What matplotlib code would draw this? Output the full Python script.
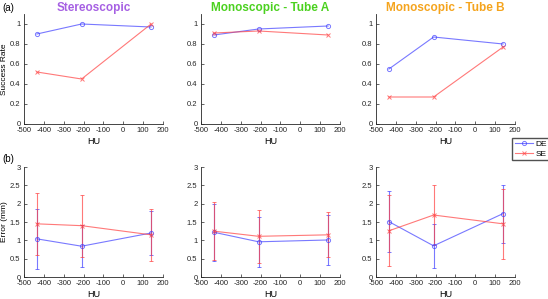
import matplotlib
matplotlib.use("Agg")
import matplotlib.pyplot as plt

plt.rcParams['font.family'] = ['Liberation Sans', 'DejaVu Sans']
plt.rcParams['axes.unicode_minus'] = False

hu = [-435, -210, 140]

titles = ["Stereoscopic", "Monoscopic - Tube A", "Monoscopic - Tube B"]
title_colors = ["#a660e3", "#4bd11f", "#f5a41d"]

# success rate (top row)
sr_de = [[0.90, 1.00, 0.97], [0.89, 0.95, 0.98], [0.55, 0.87, 0.80]]
sr_se = [[0.52, 0.45, 1.00], [0.91, 0.93, 0.89], [0.27, 0.27, 0.77]]

# error in mm (bottom row), mean and +/- error bar
err_de = [[1.04, 0.84, 1.20], [1.22, 0.96, 1.01], [1.51, 0.85, 1.73]]
err_de_bar = [[0.82, 0.57, 0.61], [0.77, 0.69, 0.68], [0.84, 0.60, 0.79]]
err_se = [[1.45, 1.40, 1.15], [1.25, 1.11, 1.15], [1.26, 1.69, 1.45]]
err_se_bar = [[0.84, 0.85, 0.71], [0.79, 0.72, 0.61], [0.97, 0.81, 0.95]]

blue = (0.25, 0.25, 1.0, 0.7)
red = (1.0, 0.25, 0.25, 0.7)

fig = plt.figure(figsize=(5.48, 2.99), dpi=100)
lefts = [24 / 548, 201 / 548, 376 / 548]
w = 139 / 548
h = 110 / 299


def style(ax):
    ax.spines['top'].set_visible(False)
    ax.spines['right'].set_visible(False)
    for s in ['left', 'bottom']:
        ax.spines[s].set_linewidth(0.6)
        ax.spines[s].set_color('#262626')
    ax.tick_params(direction='in', length=2, width=0.5, labelsize=5.5,
                   colors='#262626')
    ax.tick_params(axis='x', pad=2.5)
    ax.tick_params(axis='y', pad=2.5)
    ax.set_xlim(-500, 200)
    ax.set_xticks(range(-500, 201, 100))
    ax.set_xlabel("HU", fontsize=6.5, labelpad=1.5)


for i in range(3):
    ax = fig.add_axes([lefts[i], 1 - 124 / 299, w, h])
    l1, = ax.plot(hu, sr_de[i], color=blue, lw=0.8, marker='o', ms=3,
                  mfc='none', mew=0.7, label="DE")
    l2, = ax.plot(hu, sr_se[i], color=red, lw=0.8, marker='x', ms=3,
                  mew=0.7, label="SE")
    ax.set_ylim(0, 1.1)
    ax.set_yticks([0, 0.2, 0.4, 0.6, 0.8, 1])
    ax.set_yticklabels(["0", "0.2", "0.4", "0.6", "0.8", "1"])
    style(ax)
    ax.set_title(titles[i], color=title_colors[i], fontsize=8.5,
                 fontweight='bold', pad=0.5)
    if i == 0:
        ax.set_ylabel("Success Rate", fontsize=6, labelpad=1.5)

    ax = fig.add_axes([lefts[i], 1 - 277 / 299, w, h])
    ax.errorbar(hu, err_de[i], yerr=err_de_bar[i], color=blue, lw=0.8,
                marker='o', ms=3, mfc='none', mew=0.7, capsize=1.5,
                elinewidth=0.8)
    ax.errorbar(hu, err_se[i], yerr=err_se_bar[i], color=red, lw=0.8,
                marker='x', ms=3, mew=0.7, capsize=1.5, elinewidth=0.8)
    ax.set_ylim(0, 3)
    ax.set_yticks([0, 0.5, 1, 1.5, 2, 2.5, 3])
    ax.set_yticklabels(["0", "0.5", "1", "1.5", "2", "2.5", "3"])
    style(ax)
    if i == 0:
        ax.set_ylabel("Error (mm)", fontsize=6, labelpad=1.5)

fig.legend(handles=[l1, l2], loc='upper left',
           bbox_to_anchor=(512 / 548, 1 - 138 / 299), fontsize=6,
           frameon=True, fancybox=False, edgecolor='#262626',
           handlelength=2.2, handletextpad=0.3, borderpad=0.3,
           labelspacing=0.2, borderaxespad=0)

fig.text(2 / 548, 1 - 8 / 299, "(a)", fontsize=7, va='center')
fig.text(2 / 548, 1 - 159 / 299, "(b)", fontsize=7, va='center')

fig.savefig("out.png", dpi=100)
